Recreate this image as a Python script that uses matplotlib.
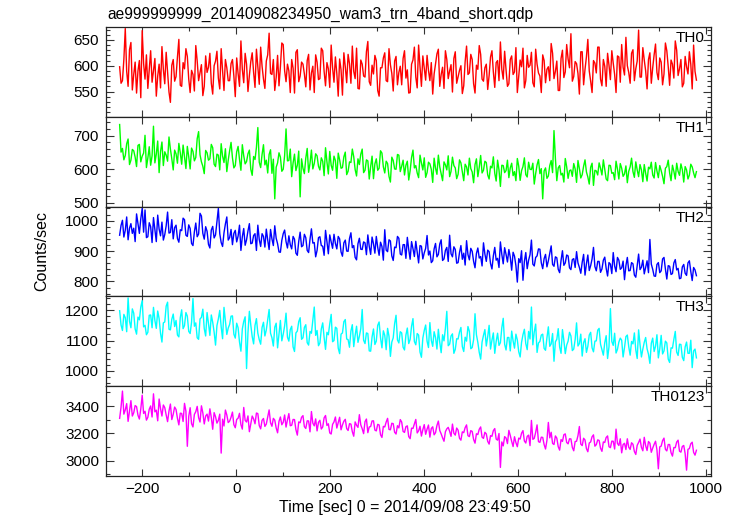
import numpy as np
import matplotlib
matplotlib.use("Agg")
import matplotlib.pyplot as plt
from matplotlib.ticker import MultipleLocator

plt.rcParams['font.family'] = ['Liberation Sans', 'DejaVu Sans']

title = "ae999999999_20140908234950_wam3_trn_4band_short.qdp"
xlabel = "Time [sec] 0 = 2014/09/08 23:49:50"
ylabel = "Counts/sec"
band_names = ["TH0", "TH1", "TH2", "TH3", "TH0123"]
band_colors = ["#ff0000", "#00ff00", "#0000ff", "#00ffff", "#ff00ff"]

# time grid of the estimated samples (seconds)
t_start = -248
t_step = 3

th0 = [598, 566, 571, 612, 672, 589, 560, 631, 645, 553,
       583, 607, 547, 590, 610, 538, 668, 604, 574, 621,
       556, 592, 629, 568, 590, 614, 541, 580, 603, 557,
       637, 593, 565, 626, 588, 549, 529, 601, 612, 570,
       579, 617, 651, 562, 560, 606, 594, 633, 618, 574,
       548, 591, 583, 551, 639, 609, 571, 586, 602, 542,
       560, 619, 587, 597, 624, 566, 545, 600, 609, 628,
       576, 555, 633, 590, 552, 612, 596, 571, 571, 604,
       612, 580, 540, 615, 585, 560, 648, 593, 567, 624,
       603, 550, 581, 608, 625, 587, 558, 632, 597, 564,
       636, 599, 574, 556, 609, 621, 663, 585, 583, 612,
       552, 577, 620, 561, 598, 644, 641, 590, 569, 603,
       590, 548, 612, 595, 547, 626, 631, 569, 580, 607,
       603, 584, 559, 610, 622, 553, 586, 599, 548, 621,
       607, 573, 575, 634, 629, 589, 561, 606, 594, 558,
       640, 596, 568, 617, 585, 541, 613, 592, 543, 625,
       598, 567, 622, 604, 566, 638, 589, 575, 634, 556,
       555, 611, 603, 580, 578, 627, 647, 569, 562, 601,
       584, 620, 610, 552, 541, 596, 596, 615, 625, 571,
       569, 633, 602, 585, 551, 609, 618, 563, 587, 599,
       563, 614, 629, 576, 592, 547, 548, 603, 611, 636,
       578, 557, 640, 598, 560, 619, 595, 572, 620, 591,
       571, 606, 545, 584, 604, 623, 632, 560, 583, 597,
       556, 629, 612, 575, 590, 602, 549, 614, 627, 566,
       579, 591, 600, 546, 561, 608, 638, 583, 586, 622,
       612, 565, 547, 601, 593, 639, 622, 574, 570, 596,
       603, 554, 581, 617, 629, 588, 558, 606, 610, 571,
       646, 593, 574, 628, 592, 560, 565, 612, 619, 583,
       588, 635, 548, 579, 611, 598, 634, 557, 571, 620,
       597, 601, 626, 567, 559, 632, 603, 586, 580, 548,
       621, 610, 567, 593, 598, 571, 643, 624, 575, 589,
       609, 552, 552, 614, 630, 577, 588, 641, 613, 596,
       662, 570, 579, 608, 604, 585, 545, 627, 627, 563,
       593, 617, 651, 590, 570, 548, 610, 605, 586, 636,
       636, 574, 561, 612, 599, 560, 624, 601, 573, 629,
       605, 583, 548, 619, 617, 568, 641, 597, 582, 655,
       600, 587, 566, 624, 631, 571, 594, 609, 669, 578,
       578, 635, 611, 590, 555, 612, 625, 566, 596, 621,
       642, 587, 573, 615, 607, 563, 584, 644, 629, 598,
       562, 611, 603, 576, 648, 630, 581, 594, 612, 559,
       566, 618, 598, 584, 627, 603, 555, 640, 589, 572]

th1 = [733, 651, 662, 628, 641, 676, 690, 614, 627, 659,
       655, 636, 608, 671, 674, 622, 639, 648, 701, 605,
       633, 667, 612, 640, 728, 619, 645, 684, 590, 653,
       681, 611, 652, 642, 624, 696, 660, 631, 598, 657,
       646, 618, 677, 649, 615, 672, 638, 602, 668, 637,
       601, 663, 653, 625, 635, 691, 712, 643, 622, 609,
       587, 656, 649, 627, 631, 674, 664, 615, 608, 645,
       642, 598, 676, 639, 620, 661, 593, 627, 655, 680,
       634, 604, 611, 652, 668, 629, 597, 673, 640, 616,
       623, 646, 657, 600, 582, 638, 629, 665, 724, 621,
       605, 644, 673, 613, 627, 589, 644, 658, 588, 630,
       512, 606, 619, 649, 636, 594, 600, 641, 720, 625,
       626, 660, 578, 619, 645, 596, 612, 654, 518, 631,
       603, 587, 633, 662, 591, 618, 657, 601, 617, 646,
       640, 609, 598, 634, 624, 581, 664, 622, 586, 653,
       612, 597, 639, 626, 573, 648, 628, 603, 605, 637,
       651, 584, 594, 622, 620, 660, 637, 599, 580, 631,
       614, 645, 660, 590, 597, 628, 625, 571, 608, 639,
       572, 616, 631, 597, 603, 655, 648, 607, 589, 624,
       617, 579, 562, 636, 626, 601, 600, 644, 642, 593,
       609, 627, 583, 612, 624, 568, 596, 635, 657, 604,
       611, 589, 575, 642, 619, 598, 634, 576, 590, 621,
       616, 600, 561, 633, 603, 585, 642, 607, 587, 566,
       622, 613, 598, 640, 578, 594, 636, 611, 604, 572,
       585, 628, 619, 592, 566, 615, 607, 583, 633, 602,
       592, 560, 614, 631, 578, 606, 641, 589, 597, 624,
       620, 583, 571, 609, 604, 637, 588, 565, 627, 598,
       549, 612, 611, 590, 596, 627, 575, 604, 618, 581,
       593, 566, 632, 609, 567, 596, 608, 634, 584, 577,
       621, 600, 599, 618, 556, 587, 613, 629, 587, 602,
       512, 595, 604, 573, 580, 611, 626, 590, 715, 632,
       566, 604, 611, 583, 588, 562, 632, 607, 573, 596,
       598, 579, 617, 601, 561, 626, 602, 574, 584, 609,
       628, 592, 577, 556, 606, 618, 552, 597, 595, 583,
       619, 603, 583, 628, 600, 571, 566, 612, 611, 588,
       590, 569, 624, 601, 571, 617, 603, 579, 586, 610,
       560, 594, 607, 633, 593, 576, 622, 598, 578, 614,
       598, 563, 614, 588, 565, 606, 601, 621, 583, 574,
       620, 595, 575, 611, 596, 579, 557, 603, 608, 627,
       589, 566, 612, 594, 571, 618, 594, 582, 616, 599,
       562, 608, 598, 571, 583, 615, 607, 589, 575, 593]

th2 = [952, 984, 1001, 946, 968, 1012, 937, 975, 990, 958,
       975, 931, 1022, 989, 958, 1006, 1040, 962, 1035, 944,
       947, 993, 980, 928, 1010, 971, 931, 1018, 972, 950,
       995, 936, 954, 983, 1028, 959, 961, 1003, 940, 977,
       985, 941, 929, 970, 967, 1008, 1003, 952, 948, 986,
       974, 925, 918, 963, 992, 947, 956, 1024, 1015, 958,
       939, 980, 965, 922, 910, 969, 981, 943, 953, 998,
       1040, 957, 928, 915, 960, 989, 1012, 936, 944, 971,
       921, 958, 968, 930, 949, 985, 902, 947, 974, 919,
       937, 966, 990, 924, 926, 951, 957, 902, 985, 938,
       915, 957, 948, 913, 972, 936, 905, 971, 940, 918,
       983, 942, 924, 897, 896, 935, 957, 969, 931, 910,
       950, 921, 907, 948, 939, 893, 886, 932, 962, 914,
       918, 955, 944, 902, 895, 939, 973, 926, 928, 881,
       902, 944, 947, 918, 916, 886, 968, 931, 891, 953,
       930, 909, 955, 925, 907, 948, 940, 897, 883, 927,
       936, 900, 899, 941, 960, 911, 918, 879, 871, 924,
       942, 906, 905, 930, 927, 888, 953, 915, 889, 946,
       924, 893, 948, 912, 886, 929, 915, 870, 970, 903,
       898, 937, 933, 884, 869, 913, 911, 948, 942, 890,
       887, 921, 921, 876, 945, 905, 873, 931, 908, 882,
       932, 896, 861, 918, 916, 874, 894, 909, 951, 887,
       900, 862, 868, 907, 925, 881, 889, 923, 937, 869,
       874, 902, 912, 866, 952, 891, 881, 914, 905, 860,
       862, 895, 918, 873, 893, 854, 934, 888, 871, 909,
       899, 866, 845, 892, 910, 877, 882, 851, 927, 890,
       866, 903, 898, 859, 841, 884, 912, 870, 876, 846,
       930, 889, 858, 911, 889, 864, 905, 880, 837, 896,
       883, 852, 798, 875, 862, 901, 804, 866, 895, 842,
       870, 888, 936, 857, 851, 879, 884, 907, 906, 861,
       842, 875, 889, 848, 868, 892, 917, 856, 850, 881,
       878, 840, 829, 869, 901, 853, 861, 887, 884, 845,
       839, 872, 875, 846, 898, 861, 846, 827, 863, 889,
       821, 858, 887, 836, 852, 874, 912, 849, 835, 866,
       866, 830, 841, 870, 880, 843, 818, 862, 857, 826,
       895, 851, 832, 879, 870, 840, 845, 867, 806, 852,
       879, 835, 836, 862, 858, 821, 814, 853, 890, 839,
       847, 870, 825, 846, 868, 829, 938, 857, 840, 818,
       817, 856, 862, 829, 835, 874, 879, 841, 808, 852,
       850, 823, 826, 861, 872, 838, 843, 809, 811, 848,
       856, 827, 820, 861, 868, 833, 803, 846, 838, 819]

th3 = [1198, 1151, 1133, 1186, 1175, 1129, 1240, 1163, 1142, 1204,
       1190, 1138, 1121, 1177, 1168, 1210, 1231, 1145, 1150, 1119,
       1127, 1183, 1184, 1142, 1209, 1166, 1140, 1197, 1172, 1124,
       1095, 1158, 1161, 1213, 1226, 1137, 1135, 1170, 1187, 1146,
       1166, 1118, 1112, 1175, 1201, 1139, 1149, 1192, 1180, 1130,
       1123, 1160, 1238, 1147, 1158, 1109, 1104, 1171, 1176, 1203,
       1139, 1115, 1192, 1156, 1117, 1184, 1160, 1128, 1085, 1149,
       1171, 1199, 1145, 1106, 1209, 1163, 1120, 1141, 1153, 1180,
       1181, 1121, 1108, 1157, 1142, 1095, 1065, 1138, 1163, 1178,
       1008, 1126, 1196, 1151, 1113, 1089, 1150, 1172, 1124, 1103,
       1088, 1143, 1160, 1115, 1135, 1169, 1202, 1124, 1109, 1082,
       1144, 1157, 1076, 1120, 1166, 1099, 1121, 1148, 1190, 1111,
       1098, 1136, 1147, 1079, 1064, 1125, 1131, 1162, 1175, 1104,
       1109, 1143, 1152, 1093, 1085, 1130, 1124, 1168, 1210, 1117,
       1133, 1083, 1092, 1138, 1158, 1110, 1071, 1127, 1119, 1155,
       1186, 1096, 1100, 1144, 1140, 1075, 1057, 1121, 1125, 1162,
       1169, 1105, 1103, 1078, 1131, 1152, 1080, 1117, 1147, 1094,
       1114, 1139, 1202, 1101, 1090, 1125, 1123, 1066, 1065, 1112,
       1138, 1087, 1098, 1150, 1161, 1109, 1076, 1132, 1117, 1070,
       1140, 1114, 1048, 1095, 1109, 1156, 1183, 1102, 1092, 1129,
       1125, 1078, 1069, 1118, 1141, 1090, 1104, 1147, 1172, 1097,
       1086, 1123, 1118, 1062, 1045, 1108, 1133, 1151, 1098, 1077,
       1159, 1101, 1081, 1129, 1110, 1072, 1137, 1094, 1060, 1119,
       1099, 1140, 1196, 1083, 1088, 1115, 1122, 1058, 1071, 1106,
       1105, 1128, 1143, 1080, 1064, 1111, 1098, 1146, 1130, 1073,
       1077, 1103, 1188, 1119, 1094, 1061, 1039, 1095, 1117, 1136,
       1082, 1113, 1150, 1072, 1101, 1125, 1058, 1097, 1124, 1084,
       1093, 1142, 1173, 1088, 1069, 1110, 1110, 1066, 1131, 1099,
       1075, 1121, 1102, 1063, 1046, 1094, 1119, 1137, 1090, 1070,
       1130, 1105, 1210, 1086, 1128, 1154, 1061, 1092, 1097, 1118,
       1121, 1074, 1068, 1109, 1145, 1081, 1089, 1123, 1032, 1096,
       1104, 1139, 1079, 1058, 1136, 1100, 1057, 1085, 1098, 1127,
       1115, 1067, 1072, 1103, 1158, 1082, 1090, 1121, 1049, 1093,
       1106, 1061, 1081, 1118, 1127, 1076, 1063, 1098, 1099, 1134,
       1140, 1088, 1070, 1052, 1093, 1116, 1041, 1079, 1205, 1097,
       1084, 1124, 1059, 1071, 1095, 1108, 1101, 1046, 1077, 1113,
       1118, 1080, 1052, 1097, 1089, 1125, 1069, 1041, 1135, 1087,
       1046, 1072, 1094, 1110, 1073, 1055, 1025, 1091, 1108, 1064,
       1081, 1119, 1043, 1073, 1117, 1056, 1066, 1098, 1092, 1039,
       1028, 1076, 1075, 1104, 1130, 1062, 1051, 1088, 1087, 1045,
       1034, 1079, 1095, 1058, 1058, 1101, 1011, 1066, 1072, 1043]

th0123 = [3310, 3392, 3510, 3341, 3372, 3418, 3288, 3365, 3440, 3327,
          3351, 3404, 3396, 3333, 3305, 3379, 3480, 3346, 3362, 3297,
          3318, 3377, 3401, 3320, 3490, 3358, 3370, 3292, 3452, 3381,
          3327, 3408, 3389, 3335, 3286, 3364, 3415, 3301, 3340, 3393,
          3375, 3310, 3262, 3348, 3346, 3287, 3420, 3362, 3105, 3324,
          3388, 3271, 3247, 3339, 3359, 3398, 3315, 3283, 3402, 3350,
          3269, 3327, 3341, 3290, 3380, 3316, 3230, 3352, 3322, 3275,
          3296, 3341, 3055, 3304, 3254, 3371, 3335, 3279, 3290, 3318,
          3356, 3264, 3241, 3302, 3311, 3347, 3264, 3231, 3390, 3295,
          3283, 3328, 3212, 3270, 3327, 3306, 3270, 3349, 3345, 3257,
          3233, 3296, 3309, 3251, 3268, 3322, 3372, 3278, 3252, 3310,
          3297, 3240, 3204, 3288, 3320, 3263, 3281, 3335, 3246, 3299,
          3345, 3256, 3259, 3302, 3301, 3227, 3187, 3284, 3278, 3318,
          3330, 3249, 3236, 3292, 3291, 3211, 3360, 3275, 3255, 3306,
          3218, 3281, 3296, 3232, 3247, 3314, 3331, 3258, 3270, 3203,
          3195, 3266, 3284, 3320, 3239, 3277, 3318, 3226, 3262, 3289,
          3303, 3235, 3221, 3271, 3268, 3212, 3179, 3284, 3259, 3244,
          3337, 3262, 3234, 3198, 3286, 3305, 3205, 3247, 3250, 3291,
          3292, 3224, 3218, 3266, 3262, 3190, 3170, 3251, 3247, 3283,
          3310, 3229, 3226, 3274, 3271, 3208, 3195, 3256, 3240, 3301,
          3283, 3214, 3207, 3249, 3255, 3176, 3161, 3238, 3236, 3270,
          3302, 3203, 3219, 3252, 3180, 3227, 3264, 3193, 3231, 3261,
          3172, 3236, 3248, 3189, 3205, 3258, 3290, 3221, 3196, 3167,
          3142, 3212, 3233, 3244, 3215, 3178, 3268, 3201, 3187, 3239,
          3223, 3164, 3150, 3211, 3205, 3242, 3262, 3183, 3176, 3220,
          3214, 3155, 3128, 3197, 3191, 3230, 3247, 3172, 3163, 3208,
          3196, 3141, 3121, 3183, 3178, 3220, 3235, 3158, 3150, 3199,
          2950, 3137, 3108, 3176, 3166, 3125, 3222, 3184, 3141, 3103,
          3175, 3132, 3102, 3165, 3158, 3201, 3220, 3144, 3129, 3178,
          3187, 3110, 3295, 3156, 3163, 3207, 3262, 3139, 3134, 3172,
          3170, 3118, 3085, 3149, 3280, 3167, 3208, 3126, 3118, 3181,
          3165, 3102, 3077, 3154, 3141, 3190, 3196, 3133, 3123, 3160,
          3159, 3097, 3072, 3140, 3142, 3183, 3250, 3121, 3110, 3164,
          3151, 3088, 3065, 3129, 3137, 3175, 3189, 3106, 3117, 3152,
          3148, 3091, 3068, 3137, 3133, 3170, 3181, 3102, 3095, 3143,
          3142, 3085, 3231, 3126, 3111, 3160, 3057, 3118, 3127, 3081,
          3160, 3098, 3082, 3131, 3120, 3067, 3045, 3112, 3133, 3158,
          3097, 3072, 3171, 3109, 3074, 3140, 3128, 3061, 3092, 3119,
          3142, 3079, 2940, 3101, 3106, 3147, 3165, 3083, 3071, 3118,
          3118, 3058, 3033, 3096, 3095, 3136, 3150, 3069, 3062, 3104,
          3111, 3052, 2930, 3083, 3088, 3124, 3135, 3061, 3040, 3076]

series = [th0, th1, th2, th3, th0123]
ylims = [(501, 675), (489, 756), (751, 1046), (950, 1245), (2887, 3546)]
y_major = [50, 100, 100, 100, 200]
y_minor = [10, 20, 20, 20, 100]
xlim = (-277, 1010)
x_major = 200
x_minor = 100

fs = 11
fig = plt.figure(figsize=(7.36, 5.16), dpi=100)
left, right, top, bottom = 106 / 736, 711 / 736, 1 - 27 / 516, 1 - 476 / 516
ph = (top - bottom) / 5
axes = []
for k in range(5):
    ax = fig.add_axes([left, top - (k + 1) * ph, right - left, ph])
    y = np.asarray(series[k], dtype=float)
    t = t_start + t_step * np.arange(len(y))
    ax.plot(t, y, color=band_colors[k], lw=1.0)
    ax.set_xlim(*xlim)
    ax.set_ylim(*ylims[k])
    ax.xaxis.set_major_locator(MultipleLocator(x_major))
    ax.xaxis.set_minor_locator(MultipleLocator(x_minor))
    ax.yaxis.set_major_locator(MultipleLocator(y_major[k]))
    ax.yaxis.set_minor_locator(MultipleLocator(y_minor[k]))
    ax.tick_params(which='both', direction='in', top=True, right=True,
                   colors='#333333', labelcolor='black', labelsize=fs, width=0.8)
    ax.tick_params(which='major', length=5, pad=4)
    ax.tick_params(axis='y', which='major', length=6, pad=5)
    ax.tick_params(which='minor', length=3)
    if k < 4:
        ax.tick_params(labelbottom=False)
    for sp in ax.spines.values():
        sp.set_linewidth(0.9)
        sp.set_color('#222222')
    ax.text(0.99, 0.955, band_names[k], transform=ax.transAxes,
            ha='right', va='top', fontsize=fs)
    axes.append(ax)

fig.text(107 / 736, 1 - 19 / 516, title, ha='left', va='baseline', fontsize=11.2)
fig.text(405 / 736, 1 - 512 / 516, xlabel, ha='center', va='baseline', fontsize=11.5)
fig.text(42 / 736, 1 - 251 / 516, ylabel, ha='center', va='center',
         rotation=90, fontsize=11.5)

fig.savefig("out.png", dpi=100)
